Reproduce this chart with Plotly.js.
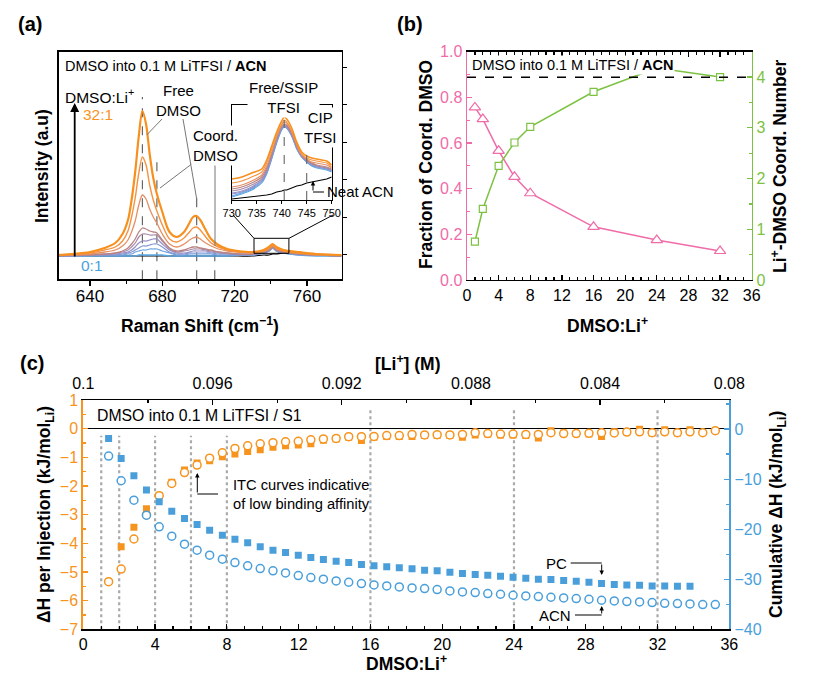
<!DOCTYPE html>
<html><head><meta charset="utf-8">
<script src="https://cdn.plot.ly/plotly-3.0.1.min.js"></script>
<style>html,body{margin:0;padding:0;background:#fff}#chart{width:814px;height:682px}</style>
</head><body><div id="chart"></div>
<script>
// ---------- Panel (a): Raman spectra ----------
const RAMAN_SHIFT = [622,630,640,648,654,658,661,663,665,667,669,671,673,675,677,680,684,688,692,695,697,699,701,704,707,711,716,722,730,736,739,741,743,747,755,765,779];
const SPEC_32 = [1,2,4,8,13,22,36,56,84,120,145,132,102,78,62,44,24,19,24,33,39,40,36,26,17,11,7,5,4,6,9,12,9,6,4,2,1];
const SPEC_24 = [1,2,3,6,9,15,25,39,58,83,99,91,71,56,45,31,17,14,18,24,28,29,26,19,13,9,6,4,4,5,8,11,8,5,3,2,1];
const SPEC_16 = [1,1,2,4,6,10,16,24,35,51,61,57,47,39,33,22,12,9,12,16,18,19,17,13,10,7,5,4,3,5,7,10,7,5,3,1,1];
const SPEC_8  = [0,1,1,2,3,5,8,12,17,24,28,27,25,24,23,16,8,5,6,8,9,9,8,7,6,4,3,2,2,4,6,9,6,4,2,1,0];
const SPEC_6  = [0,1,1,2,3,4,6,9,13,19,22,22,21,21,21,15,7,4,5,6,7,7,7,6,5,4,3,2,2,4,6,9,6,4,2,1,0];
const SPEC_4  = [0,0,1,1,2,3,4,6,9,13,15,15,16,17,17,12,6,3,3,4,5,5,5,5,4,3,2,2,2,4,6,9,6,4,2,1,0];
const SPEC_2  = [0,0,1,1,1,2,3,4,6,8,10,10,11,12,12,9,4,2,2,3,3,3,3,3,3,2,2,1,1,3,5,8,5,3,2,1,0];
const SPEC_1  = [0,0,0,1,1,1,2,2,4,5,6,6,7,7,7,5,3,1,1,2,2,2,2,2,2,1,1,1,1,3,5,8,5,3,1,1,0];
const SPEC_0  = [0,0,0,0,0,0,0,0,0,1,1,1,1,1,1,1,0,0,0,0,0,0,0,0,0,0,0,1,1,3,5,8,5,3,1,0,0];
const SPEC_NEAT = [0,0,0,0,0,0,0,0,0,0,0,0,0,0,0,0,0,0,0,0,0,0,0,0,0,0,0,0,0,1,1,2,2,3,2,1,0];

// inset (730-750 cm-1)
const INSET_SHIFT = [730,732,734,736,737,738,739,740,740.5,741,742,743,744,745,746,747,748,749,750];
const INSET_32 = [21,23,27,31,40,54,68,79,83,81,72,58,48,44,42,41,40,39,35];
const INSET_24 = [17,19,23,28,37,51,65,76,80,78,69,56,46,42,40,39,38,37,33];
const INSET_16 = [13,15,19,25,34,48,63,75,78,77,68,55,45,41,38,37,36,35,32];
const INSET_8  = [11,13,17,23,32,46,62,74,76,75,67,54,45,40,37,35,34,33,31];
const INSET_6  = [9,11,15,21,30,45,61,73,75,74,66,53,44,40,36,34,33,32,30];
const INSET_4  = [7,9,13,20,29,44,60,72,74,73,65,53,44,39,36,34,33,32,30];
const INSET_2  = [6,8,12,19,28,43,59,71,74,73,65,52,43,39,35,33,32,31,29];
const INSET_1  = [4,7,11,18,27,42,58,71,73,72,64,52,43,38,35,33,32,31,29];
const INSET_0  = [3,6,10,17,26,41,57,70,73,72,64,51,43,38,34,32,31,30,28];
const INSET_NEAT = [1,2,3,4,5,6,8,9,10,10,12,14,15,17,18,19,20,21,23];

const RATIO_LABELS = ['32:1','24:1','16:1','8:1','6:1','4:1','2:1','1:1','0:1'];

// ---------- Panel (b) ----------
const DMSO_LI_B = [1,2,4,6,8,16,24,32];
const FRACTION_COORD = [0.756,0.705,0.566,0.452,0.380,0.233,0.175,0.127];
const COORD_NUMBER = [0.755,1.40,2.25,2.71,3.02,3.71,4.18,4.00];
const CN_MAX = 0.888;

// ---------- Panel (c): ITC ----------
const DMSO_LI_C = [1.41,2.11,2.82,3.52,4.23,4.93,5.64,6.34,7.04,7.75,8.45,9.16,9.86,10.57,11.27,11.98,12.68,13.38,14.09,14.79,15.50,16.20,16.91,17.61,18.32,19.02,19.72,20.43,21.13,21.84,22.54,23.25,23.95,24.66,25.36,26.06,26.77,27.47,28.18,28.88,29.59,30.29,31.00,31.70,32.40,33.11,33.81,34.52,35.22];
const ACN_PER_INJ = [-5.34,-4.90,-3.85,-3.01,-2.34,-1.91,-1.53,-1.27,-1.03,-0.84,-0.69,-0.60,-0.53,-0.49,-0.46,-0.44,-0.39,-0.36,-0.34,-0.28,-0.28,-0.27,-0.24,-0.24,-0.20,-0.22,-0.21,-0.22,-0.20,-0.14,-0.17,-0.19,-0.19,-0.20,-0.20,-0.14,-0.17,-0.17,-0.16,-0.14,-0.15,-0.12,-0.11,-0.14,-0.11,-0.14,-0.11,-0.14,-0.07];
const PC_PER_INJ = [null,-4.12,-3.44,-2.79,-2.33,-1.87,-1.44,-1.20,-1.12,-0.98,-0.88,-0.80,-0.74,-0.65,-0.60,-0.57,-0.53,-0.40,-0.36,-0.30,-0.41,-0.30,-0.27,-0.27,-0.27,-0.24,-0.24,-0.24,-0.30,-0.22,-0.19,-0.22,-0.22,-0.24,-0.33,-0.07,-0.15,-0.17,-0.19,-0.27,-0.11,-0.11,-0.02,-0.15,-0.04,-0.15,-0.04];
const PC_CUMUL = [-1.87,-5.87,-9.33,-12.2,-14.53,-16.4,-17.87,-19.07,-20.2,-21.2,-22.0,-22.73,-23.53,-24.2,-24.67,-25.2,-25.67,-26.07,-26.4,-26.67,-27.07,-27.33,-27.53,-27.73,-27.93,-28.2,-28.33,-28.6,-28.87,-29.07,-29.2,-29.4,-29.6,-29.8,-30.0,-30.07,-30.27,-30.4,-30.6,-30.87,-31.07,-31.13,-31.2,-31.33,-31.33,-31.4,-31.4];
const ACN_CUMUL = [-5.4,-10.33,-14.2,-17.2,-19.53,-21.4,-23.0,-24.2,-25.2,-26.0,-26.67,-27.33,-27.87,-28.33,-28.73,-29.27,-29.67,-30.0,-30.33,-30.6,-30.87,-31.13,-31.33,-31.53,-31.73,-31.87,-32.07,-32.33,-32.53,-32.67,-32.87,-33.0,-33.2,-33.33,-33.47,-33.6,-33.73,-33.87,-34.0,-34.2,-34.33,-34.47,-34.53,-34.67,-34.8,-34.87,-34.93,-35.07,-35.07];
const REF_RATIOS = [1,2,4,6,8,16,24,32];
const LI_CONC_RANGE = [0.1,0.08];

// ---------- styling ----------
const W = 814, H = 682;
const PX = v => v / W, PY = v => 1 - v / H;
const FONT = 'Liberation Sans, Arial, Helvetica, sans-serif';
const ORANGE = '#F7941D', BLUE = '#4A9FDB', PINK = '#F06CA8', GREEN = '#7CC242';
const SPEC_COLORS = ['#F7901E','#F39343','#E48F64','#B98283','#A889A6','#9690C6','#8398D4','#6FA2DE','#58A8E6'];
const SPEC_WIDTHS = [2.2,1.4,1.3,1.3,1.2,1.2,1.2,1.2,1.3];
const TICK = 16;

const mainSpecs = [SPEC_32,SPEC_24,SPEC_16,SPEC_8,SPEC_6,SPEC_4,SPEC_2,SPEC_1,SPEC_0];
const insetSpecs = [INSET_32,INSET_24,INSET_16,INSET_8,INSET_6,INSET_4,INSET_2,INSET_1,INSET_0];

const traces = [];
traces.push({x:RAMAN_SHIFT, y:SPEC_NEAT, xaxis:'x', yaxis:'y', mode:'lines', line:{color:'#000',width:1.2,shape:'spline'}, name:'Neat ACN'});
for (let i = mainSpecs.length - 1; i >= 0; i--) {
  traces.push({x:RAMAN_SHIFT, y:mainSpecs[i], xaxis:'x', yaxis:'y', mode:'lines', name:RATIO_LABELS[i],
    line:{color:SPEC_COLORS[i], width:SPEC_WIDTHS[i], shape:'spline', smoothing:0.9}});
}
// helper (empty) trace so the right-hand tick axis of panel (a) is drawn
traces.push({x:[null], y:[null], xaxis:'x', yaxis:'y7', mode:'markers', hoverinfo:'skip', showlegend:false});
traces.push({x:INSET_SHIFT, y:INSET_NEAT, xaxis:'x2', yaxis:'y2', mode:'lines', line:{color:'#000',width:1.1}, name:'Neat ACN'});
for (let i = insetSpecs.length - 1; i >= 0; i--) {
  traces.push({x:INSET_SHIFT, y:insetSpecs[i], xaxis:'x2', yaxis:'y2', mode:'lines', name:RATIO_LABELS[i],
    line:{color:SPEC_COLORS[i], width:i===0?1.6:1.1, shape:'spline', smoothing:0.8}});
}
// panel b
traces.push({x:DMSO_LI_B, y:FRACTION_COORD, xaxis:'x3', yaxis:'y3', mode:'lines+markers',
  line:{color:PINK,width:1.5}, marker:{symbol:'triangle-up', size:10, color:'#fff', line:{color:PINK,width:1.2}}});
traces.push({x:DMSO_LI_B, y:COORD_NUMBER, xaxis:'x3', yaxis:'y4', mode:'lines+markers',
  line:{color:GREEN,width:1.5}, marker:{symbol:'square', size:7, color:'#fff', line:{color:GREEN,width:1.2}}});
// panel c
traces.push({x:DMSO_LI_C, y:PC_PER_INJ, xaxis:'x4', yaxis:'y5', mode:'markers', name:'PC',
  marker:{symbol:'square', size:7, color:ORANGE}});
traces.push({x:DMSO_LI_C, y:ACN_PER_INJ, xaxis:'x4', yaxis:'y5', mode:'markers', name:'ACN',
  marker:{symbol:'circle', size:8, color:'#fff', line:{color:ORANGE,width:1.5}}});
traces.push({x:DMSO_LI_C, y:PC_CUMUL, xaxis:'x4', yaxis:'y6', mode:'markers', name:'PC cumulative',
  marker:{symbol:'square', size:7, color:BLUE}});
traces.push({x:DMSO_LI_C, y:ACN_CUMUL, xaxis:'x4', yaxis:'y6', mode:'markers', name:'ACN cumulative',
  marker:{symbol:'circle', size:8, color:'#fff', line:{color:BLUE,width:1.5}}});
// helper (empty) trace so the top [Li+] axis is drawn
traces.push({x:[null], y:[null], xaxis:'x5', yaxis:'y5', mode:'markers', hoverinfo:'skip', showlegend:false});

const ax = (o) => Object.assign({showgrid:false, zeroline:false, showline:true, linecolor:'#000', linewidth:1.3,
  tickfont:{family:FONT,size:TICK,color:'#000'}, tickcolor:'#000', ticks:'inside', ticklen:5, tickwidth:1.2}, o);

const layout = {
  width:W, height:H, margin:{l:0,r:0,t:0,b:0}, showlegend:false,
  paper_bgcolor:'#fff', plot_bgcolor:'rgba(0,0,0,0)',
  font:{family:FONT, size:15, color:'#000'},
  xaxis: ax({domain:[PX(58.7),PX(341.7)], range:[622.7,779.2], anchor:'y', ticks:'outside', dtick:40, tick0:0, ticklen:5,
    ticklabelstandoff:-4, tickfont:{family:FONT,size:17,color:'#000'},
    minor:{dtick:20, tick0:0, ticks:'outside', ticklen:3, tickcolor:'#000'}, mirror:true}),
  yaxis: ax({domain:[PY(279.3),PY(51.7)], range:[-23.3,204.3], anchor:'x', showticklabels:false, ticks:'', mirror:true}),
  yaxis7: {overlaying:'y', anchor:'x', side:'right', range:[-23.3,204.3], showline:false, showgrid:false, zeroline:false,
    showticklabels:false, ticks:'outside', tick0:1.5, dtick:37.5, ticklen:4, tickcolor:'#000'},
  xaxis2: ax({domain:[PX(231.7),PX(331.7)], range:[730,750], anchor:'y2', dtick:5, tick0:0, ticks:'outside', ticklen:3,
    linewidth:1, tickfont:{family:FONT,size:11,color:'#000'}, mirror:true}),
  yaxis2: ax({domain:[PY(200),PY(105)], range:[0,95], anchor:'x2', showticklabels:false, ticks:'', linewidth:1, mirror:true}),
  xaxis3: ax({domain:[PX(467),PX(751.7)], range:[0,36], anchor:'y3', dtick:4, tick0:0, mirror:'ticks',
    minor:{dtick:1, ticks:'inside', ticklen:3, tickcolor:'#000'}}),
  yaxis3: ax({domain:[PY(280),PY(51.7)], range:[0,1], anchor:'x3', dtick:0.2, tickformat:'.1f', linecolor:PINK, linewidth:1.5,
    tickcolor:PINK, tickfont:{family:FONT,size:TICK,color:PINK}, minor:{dtick:0.1, ticks:'inside', ticklen:3, tickcolor:PINK}}),
  yaxis4: ax({overlaying:'y3', anchor:'x3', side:'right', range:[0,4.5], dtick:1, linecolor:GREEN, linewidth:1.5,
    tickcolor:GREEN, tickfont:{family:FONT,size:TICK,color:GREEN}, minor:{dtick:0.5, ticks:'inside', ticklen:3, tickcolor:GREEN}}),
  xaxis4: ax({domain:[PX(83.3),PX(729.3)], range:[0,36], anchor:'y5', dtick:4, tick0:0,
    minor:{dtick:1, ticks:'inside', ticklen:3, tickcolor:'#000'}}),
  xaxis5: ax({overlaying:'x4', anchor:'y5', side:'top', range:LI_CONC_RANGE, autorange:false, dtick:0.004, tick0:0,
    ticklabelstandoff:3, minor:{dtick:0.002, ticks:'inside', ticklen:3, tickcolor:'#000'}}),
  yaxis5: ax({domain:[PY(629.3),PY(400)], range:[-7,1], anchor:'x4', dtick:1, linecolor:ORANGE, linewidth:2,
    tickcolor:ORANGE, tickfont:{family:FONT,size:TICK,color:ORANGE}, zeroline:true, zerolinecolor:'#000', zerolinewidth:1.5,
    minor:{dtick:0.5, ticks:'inside', ticklen:3, tickcolor:ORANGE}}),
  yaxis6: ax({overlaying:'y5', anchor:'x4', side:'right', range:[-40,5.8], dtick:10, linecolor:BLUE, linewidth:2,
    tickcolor:BLUE, tickfont:{family:FONT,size:TICK,color:BLUE}, minor:{dtick:5, ticks:'inside', ticklen:3, tickcolor:BLUE}}),
  shapes:[], annotations:[]
};

const S = layout.shapes, A = layout.annotations;
const pline = (x0,y0,x1,y1,color,width,dash) => S.push({type:'line', xref:'paper', yref:'paper', x0:PX(x0), y0:PY(y0), x1:PX(x1), y1:PY(y1),
  line:{color:color||'#000', width:width||1, dash:dash||'solid'}});
// panel a dashed peak markers
[[669,159],[677,101],[699,58],[709,8]].forEach(([x,top]) => S.push({type:'line', xref:'x', yref:'y', x0:x, x1:x, y0:-23.3, y1:top,
  line:{color:'#666', width:1.2, dash:'dash'}, layer:'below'}));
// leaders
pline(162,119,146.7,135,'#777',1);
pline(183,119,196.7,199,'#777',1);
pline(193,163,160,188,'#777',1);
pline(215,163,215,246,'#777',1);
// zoom box and connectors
S.push({type:'rect', xref:'x', yref:'y', x0:730.7, x1:750, y0:2.7, y1:17.7, line:{color:'#000', width:1}});
pline(233,215,254,238.3,'#000',1);
pline(333,215,289,238.3,'#000',1);
// inset dashed
S.push({type:'line', xref:'x2', yref:'y2', x0:740.5, x1:740.5, y0:0, y1:80, line:{color:'#666',width:1.1,dash:'dash'}});
S.push({type:'line', xref:'x2', yref:'y2', x0:745, x1:745, y0:0, y1:47, line:{color:'#666',width:1.1,dash:'dash'}});
pline(313,192,324,192,'#000',1);
// panel b plateau line
S.push({type:'line', xref:'x3', yref:'y3', x0:0, x1:36, y0:CN_MAX, y1:CN_MAX, line:{color:'#000',width:1.3,dash:'dash'}});
// panel c reference ratio lines
REF_RATIOS.forEach(r => S.push({type:'line', xref:'x4', yref:'y5', x0:r, x1:r, y0:-7, y1: r>=16 ? 0.75 : -0.25,
  line:{color:'#aaa', width:2.2, dash:'dot'}, layer:'below'}));
pline(197.3,494,218,494,'#000',1);
pline(570.7,563,601.7,563,'#000',1);
pline(575,615,601.7,615,'#000',1);

const txt = (text,x,y,o) => A.push(Object.assign({text, xref:'paper', yref:'paper', x:PX(x), y:PY(y), showarrow:false,
  xanchor:'center', yanchor:'middle', font:{family:FONT,size:15,color:'#000'}}, o||{}));
const arrow = (x,y,ax_,ay_,w) => A.push({text:'', xref:'paper', yref:'paper', x:PX(x), y:PY(y), ax:ax_, ay:ay_,
  showarrow:true, arrowhead:2, arrowsize:w>1.5?1:0.9, arrowwidth:w||1, arrowcolor:'#000'});

const bold = (s) => '<b>'+s+'</b>';
const F = (size,color) => ({family:FONT,size,color:color||'#000'});
txt(bold('(a)'),30,24,{font:F(20)});
txt(bold('(b)'),410,24,{font:F(20)});
txt(bold('(c)'),32,363,{font:F(20)});
txt(bold('Intensity (a.u)'),42,166,{textangle:-90,font:F(17.5)});
txt(bold('Raman Shift (cm<sup>−1</sup>)'),200,325,{font:F(17.5)});
txt(bold('Fraction of Coord. DMSO'),426,165,{textangle:-90,font:F(17.5)});
txt(bold('Li<sup>+</sup>-DMSO Coord. Number'),779,167,{textangle:-90,font:F(17.5)});
txt(bold('DMSO:Li<sup>+</sup>'),607,325,{font:F(17.5)});
txt(bold('ΔH per Injection (kJ/mol<sub>Li</sub>)'),45,515,{textangle:-90,font:F(17.5)});
txt(bold('Cumulative ΔH (kJ/mol<sub>Li</sub>)'),777,515,{textangle:-90,font:F(17.5)});
txt(bold('DMSO:Li<sup>+</sup>'),406,663,{font:F(17.5)});
txt(bold('[Li<sup>+</sup>] (M)'),407,363,{font:F(17.5)});

txt('DMSO into 0.1 M LiTFSI / <b>ACN</b>',63,66,{xanchor:'left',font:F(14.5)});
txt('DMSO:Li<sup>+</sup>',63,96,{xanchor:'left',font:F(15.5)});
txt('32:1',81,115,{xanchor:'left',font:F(15.5,ORANGE)});
txt('0:1',79,265,{xanchor:'left',font:F(15.5,'#4A9FDB')});
txt('Free<br>DMSO',178,100.5);
txt('Coord.<br>DMSO',215,145.5,{bgcolor:'#fff'});
txt('Free/SSIP<br>TFSI',283,97.5,{bgcolor:'#fff'});
txt('CIP<br>TFSI',320,127,{bgcolor:'#fff'});
txt('Neat ACN',325,192,{xanchor:'left'});
arrow(74.7,103,0,155,1.8);
arrow(313,181,0,11,1);

txt('DMSO into 0.1 M LiTFSI / <b>ACN</b>',470,65,{xanchor:'left',bgcolor:'#fff',font:F(14.5)});

txt('DMSO into 0.1 M LiTFSI / S1',95,415,{xanchor:'left',font:F(15.8)});
txt('ITC curves indicative<br>of low binding affinity',231,494.5,{xanchor:'left',align:'left',font:F(14.7)});
arrow(197.3,473,0,21,1);
txt('PC',556,563);
arrow(601.7,575,0,-12,1);
txt('ACN',555,615);
arrow(601.7,606,0,9,1);

Plotly.newPlot('chart', traces, layout, {staticPlot:true, displayModeBar:false});
</script></body></html>
